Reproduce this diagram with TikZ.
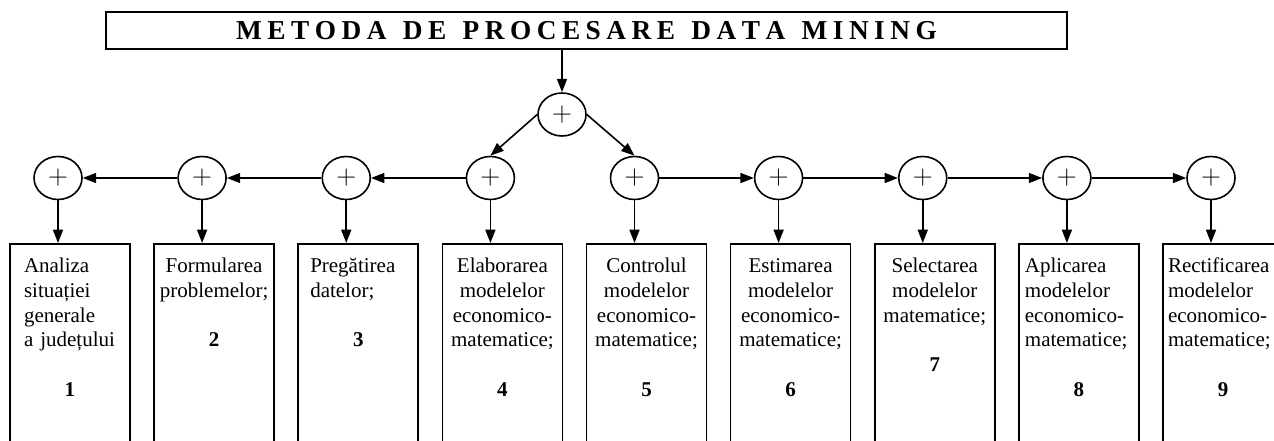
\documentclass[tikz,border=0pt]{standalone}
\usepackage{fontspec}
\setmainfont{Liberation Serif}
\usetikzlibrary{arrows.meta,shapes.geometric,positioning}

\newcommand\ls{\hspace{4.1pt}}
\newcommand\ws{\hspace{12.3pt}}

\tikzset{
  heading/.style={draw, line width=1.2pt, minimum width=720.75pt, minimum height=27.75pt,
    inner sep=0pt, font=\fontsize{20.5pt}{20.5pt}\selectfont\bfseries},
  sum/.style={draw, ellipse, line width=1.2pt, minimum width=36pt, minimum height=32.25pt,
    inner sep=0pt, font=\fontsize{22pt}{22pt}\selectfont},
  stage/.style={draw, line width=1.2pt, anchor=north, inner ysep=10.75pt,
    text height=11pt, text depth=160pt, font=\fontsize{15.75pt}{18.5pt}\selectfont},
  mid/.style={stage, align=center, inner xsep=3pt, text width=84pt},
  arr/.style={line width=1.2pt, -{Triangle[length=10pt,width=7.5pt]}}
}

\begin{document}
\begin{tikzpicture}[x=0.75pt,y=-0.75pt]

    % Frame of the picture
    \useasboundingbox (0,0) rectangle (1274,441);
    \clip (0,0) rectangle (1274,441);

    % Title
    \node[heading] (title) at (586.5,30.5)
      {M\ls E\ls T\ls O\ls D\ls A\ws D\ls E\ws P\ls R\ls O\ls C\ls E\ls S\ls A\ls R\ls E\ws
       D\ls A\ls T\ls A\ws M\ls I\ls N\ls I\ls N\ls G};

    % Summing junctions
    \node[sum] (top) at (562,114.5) {$+$};
    \foreach \i/\x in {1/58,2/202.1,3/346.25,4/490.4,5/634.5,6/778.6,7/922.75,8/1066.9,9/1211}
        \node[sum] (c\i) at (\x,178) {$+$};

    % Stages
    \node[stage, align=left, inner xsep=10.5pt, text width=69pt] (b1) at (70,243)
      {Analiza\\situației\\generale\\a județului\\[\baselineskip]\makebox[\hsize]{\textbf{1}}};
    \node[mid] (b2) at (214.1,243)
      {Formularea\\problemelor;\\[\baselineskip]\textbf{2}};
    \node[stage, align=left, inner xsep=9pt, text width=72pt] (b3) at (358.25,243)
      {Pregătirea\\datelor;\\[\baselineskip]\makebox[\hsize]{\textbf{3}}};
    \node[mid] (b4) at (502.4,243)
      {Elaborarea\\modelelor\\economico-\\matematice;\\[\baselineskip]\textbf{4}};
    \node[mid] (b5) at (646.5,243)
      {Controlul\\modelelor\\economico-\\matematice;\\[\baselineskip]\textbf{5}};
    \node[mid] (b6) at (790.6,243)
      {Estimarea\\modelelor\\economico-\\matematice;\\[\baselineskip]\textbf{6}};
    \node[mid] (b7) at (934.75,243)
      {Selectarea\\modelelor\\matematice;\\[\baselineskip]\textbf{7}};
    \node[stage, align=left, inner xsep=4.5pt, text width=81pt] (b8) at (1078.9,243)
      {Aplicarea\\modelelor\\economico-\\matematice;\\[\baselineskip]\makebox[\hsize]{\textbf{8}}};
    \node[stage, align=left, inner xsep=3.75pt, text width=82.5pt] (b9) at (1223,243)
      {Rectificarea\\modelelor\\economico-\\matematice;\\[\baselineskip]\makebox[\hsize]{\textbf{9}}};

    % Connectors
    \draw[arr] (top |- title.south) -- (top);
    \draw[arr] (top.west) -- (c4.north);
    \draw[arr] (top.east) -- (c5.north);
    \draw[arr] (c4) -- (c3);
    \draw[arr] (c3) -- (c2);
    \draw[arr] (c2) -- (c1);
    \draw[arr] (c5) -- (c6);
    \draw[arr] (c6) -- (c7);
    \draw[arr] (c7) -- (c8);
    \draw[arr] (c8) -- (c9);
    \foreach \i in {1,...,9}
        \draw[arr] (c\i) -- (c\i |- b\i.north);

\end{tikzpicture}
\end{document}
